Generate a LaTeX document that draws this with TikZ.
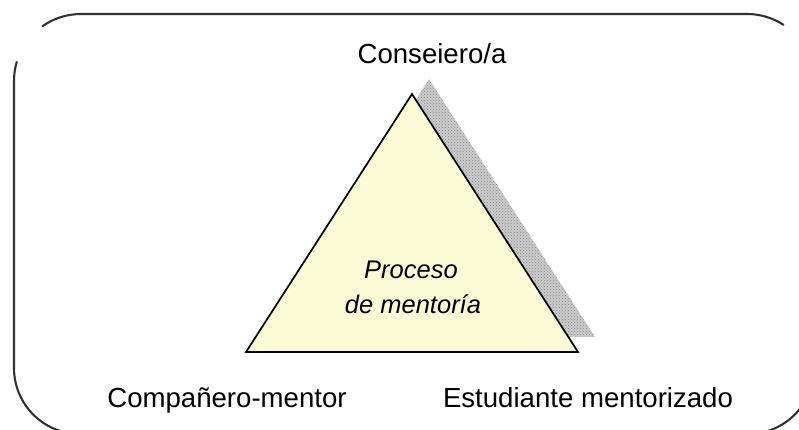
\documentclass[tikz,border=0pt]{standalone}
\usepackage{fontspec}
\setmainfont{Liberation Sans}
\usetikzlibrary{patterns,calc}
\definecolor{trifill}{RGB}{250,250,212}
\definecolor{framecol}{RGB}{50,50,50}
\tikzset{
  framestyle/.style={draw=framecol, line width=2.1pt, line cap=round},
  lbltxt/.style={inner sep=0pt, anchor=base, font=\fontsize{27.6}{33}\selectfont},
  innertxt/.style={inner sep=0pt, anchor=base, font=\fontsize{25.5}{30}\selectfont\itshape},
  trishape/.style={draw=black, line width=1.7pt, fill=trifill, line join=miter},
}
\begin{document}
\begin{tikzpicture}[x=1pt,y=-1pt]
\useasboundingbox (0,0) rectangle (799,429);
\clip (0,0) rectangle (799,429);
% frame (rounded, with a gap at the top-left corner)
\coordinate (tl) at (81,81);
\coordinate (tr) at (747,81);
\coordinate (bl) at (80,368);
\coordinate (br) at (748,368);
\draw[framestyle] ($(tl)+(235:67)$) arc[start angle=235, end angle=270, radius=67]
  -- (747,14) arc[start angle=270, end angle=303, radius=67];
\draw[framestyle] ($(tl)+(196.5:67)$) arc[start angle=196.5, end angle=180, radius=67]
  -- (14,368) arc[start angle=180, end angle=90, radius=66]
  -- (748,434) arc[start angle=90, end angle=0, radius=66] -- (814,300);
% triangle shadow
\coordinate (sA) at (429,79);
\coordinate (sL) at (263,337);
\coordinate (sR) at (595,337);
\fill[gray!40] (sA) -- (sR) -- (sL) -- cycle;
\fill[pattern=crosshatch dots, pattern color=gray!95] (sA) -- (sR) -- (sL) -- cycle;
% triangle
\coordinate (A) at (412,94);
\coordinate (L) at (246,352);
\coordinate (R) at (578,352);
\draw[trishape] (A) -- (R) -- (L) -- cycle;
% labels
\node[lbltxt] (top) at (432,63) {Conseiero/a};
\node[lbltxt] (left) at (227,407) {Compañero-mentor};
\node[lbltxt] (right) at (588,407) {Estudiante mentorizado};
\node[innertxt] (p1) at (411,278) {Proceso};
\node[innertxt] (p2) at (413,313) {de mentoría};
\end{tikzpicture}
\end{document}
